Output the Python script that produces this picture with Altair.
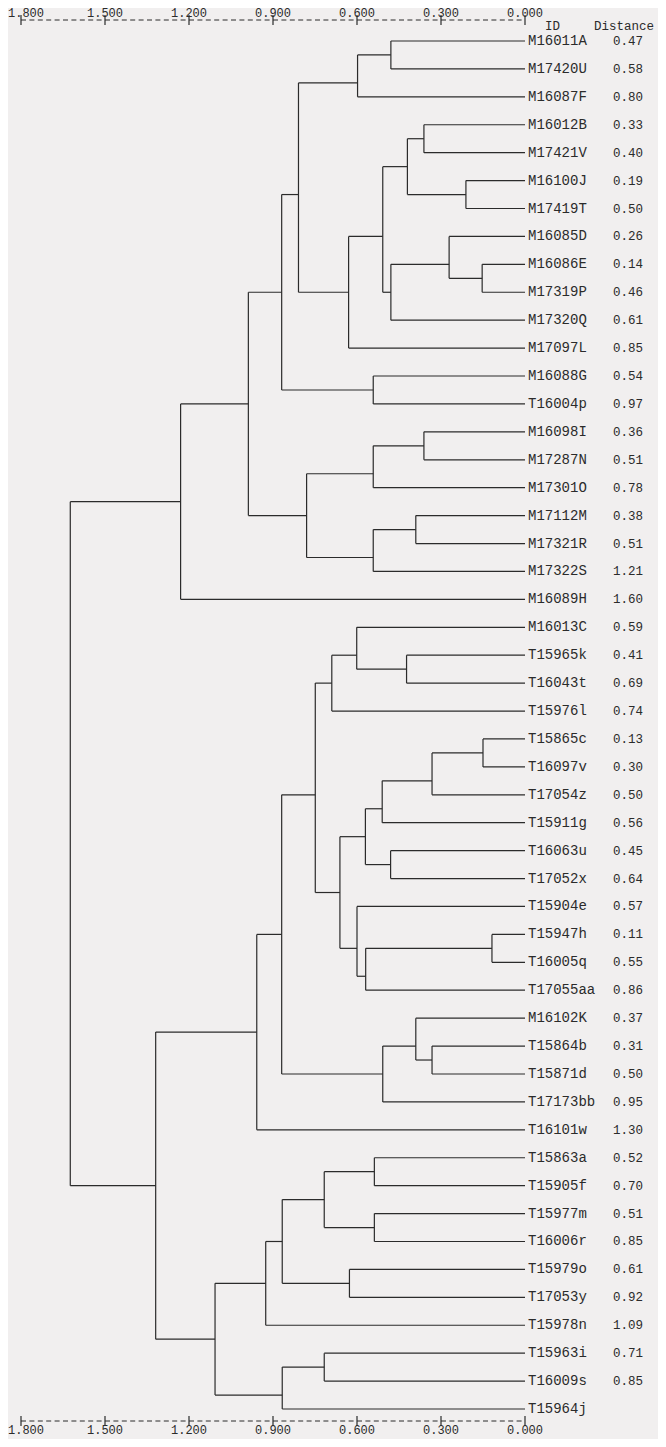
import math
import altair as alt
import pandas as pd

# ---------------- data ----------------
leaf_ids = [
    "M16011A", "M17420U", "M16087F", "M16012B", "M17421V", "M16100J", "M17419T",
    "M16085D", "M16086E", "M17319P", "M17320Q", "M17097L", "M16088G", "T16004p",
    "M16098I", "M17287N", "M17301O", "M17112M", "M17321R", "M17322S", "M16089H",
    "M16013C", "T15965k", "T16043t", "T15976l", "T15865c", "T16097v", "T17054z",
    "T15911g", "T16063u", "T17052x", "T15904e", "T15947h", "T16005q", "T17055aa",
    "M16102K", "T15864b", "T15871d", "T17173bb", "T16101w", "T15863a", "T15905f",
    "T15977m", "T16006r", "T15979o", "T17053y", "T15978n", "T15963i", "T16009s",
    "T15964j",
]
leaf_distance = [
    "0.47", "0.58", "0.80", "0.33", "0.40", "0.19", "0.50",
    "0.26", "0.14", "0.46", "0.61", "0.85", "0.54", "0.97",
    "0.36", "0.51", "0.78", "0.38", "0.51", "1.21", "1.60",
    "0.59", "0.41", "0.69", "0.74", "0.13", "0.30", "0.50",
    "0.56", "0.45", "0.64", "0.57", "0.11", "0.55", "0.86",
    "0.37", "0.31", "0.50", "0.95", "1.30", "0.52", "0.70",
    "0.51", "0.85", "0.61", "0.92", "1.09", "0.71", "0.85",
    "",
]

# merges (bottom-up); N<k> refers to the k-th merge
merge_left = [
    "M16011A", "N0", "M16012B", "M16100J", "N2", "M16086E", "M16085D", "N6", "N4", "N8",
    "N1", "M16088G", "N10", "M16098I", "N13", "M17112M", "N15", "N14", "N12", "N18",
    "T15965k", "M16013C", "N21", "T15865c", "N23", "N24", "T16063u", "N25", "T15947h", "N28",
    "T15904e", "N27", "N22", "T15864b", "M16102K", "N34", "N32", "N36", "T15863a", "T15977m",
    "N38", "T15979o", "N40", "N42", "T15963i", "N44", "N43", "N37", "N19",
]
merge_right = [
    "M17420U", "M16087F", "M17421V", "M17419T", "N3", "M17319P", "N5", "M17320Q", "N7", "M17097L",
    "N9", "T16004p", "N11", "M17287N", "M17301O", "M17321R", "M17322S", "N16", "N17", "M16089H",
    "T16043t", "N20", "T15976l", "T16097v", "T17054z", "T15911g", "T17052x", "N26", "T16005q", "T17055aa",
    "N29", "N30", "N31", "T15871d", "N33", "T17173bb", "N35", "T16101w", "T15905f", "T16006r",
    "N39", "T17053y", "N41", "T15978n", "T16009s", "T15964j", "N45", "N46", "N47",
]
merge_height = [
    0.479, 0.598, 0.361, 0.211, 0.420, 0.153, 0.271, 0.479, 0.508, 0.630,
    0.809, 0.542, 0.869, 0.361, 0.542, 0.390, 0.542, 0.780, 0.988, 1.230,
    0.423, 0.601, 0.690, 0.150, 0.332, 0.510, 0.480, 0.570, 0.118, 0.569,
    0.600, 0.661, 0.749, 0.332, 0.390, 0.508, 0.869, 0.958, 0.538, 0.538,
    0.717, 0.627, 0.867, 0.926, 0.717, 0.867, 1.107, 1.319, 1.624,
]

axis_ticks = [1.8, 1.5, 1.2, 0.9, 0.6, 0.3, 0.0]

# ---------------- build tree segments ----------------
pos = {lid: (0.0, float(i)) for i, lid in enumerate(leaf_ids)}
segs = []
for k, (a, b, h) in enumerate(zip(merge_left, merge_right, merge_height)):
    ha, ya = pos[a]
    hb, yb = pos[b]
    segs.append(dict(x=h, x2=h, y=ya, y2=yb))
    segs.append(dict(x=ha, x2=h, y=ya, y2=ya))
    segs.append(dict(x=hb, x2=h, y=yb, y2=yb))
    # joint placed on the half-row grid (rounded up), as in the printout
    pos[f"N{k}"] = (h, math.ceil((ya + yb) - 1e-9) / 2.0)
seg_df = pd.DataFrame(segs)

leaf_df = pd.DataFrame({
    "id": leaf_ids,
    "dist": leaf_distance,
    "row": list(range(len(leaf_ids))),
    "zero": [0.0] * len(leaf_ids),
})
tick_df = pd.DataFrame({"tick": axis_ticks, "label": [f"{t:.3f}" for t in axis_ticks]})
first_tick_df = tick_df[tick_df["tick"] == max(axis_ticks)]
other_tick_df = tick_df[tick_df["tick"] != max(axis_ticks)]
line_df = pd.DataFrame({"lo": [max(axis_ticks)], "hi": [min(axis_ticks)]})
head_df = pd.DataFrame({"zero": [0.0], "a": ["ID"], "b": ["Distance"]})

# ---------------- chart ----------------
W, H = 504, 1368
INK = "#2b2b2b"
FONT = "Liberation Mono"
xs = alt.Scale(domain=[0, 1.8], reverse=True, nice=False, zero=False)
ys = alt.Scale(domain=[0, 49], reverse=True, nice=False, zero=False)

tree = alt.Chart(seg_df).mark_rule(color=INK, strokeWidth=1.2).encode(
    x=alt.X("x:Q", scale=xs, axis=None),
    x2="x2:Q",
    y=alt.Y("y:Q", scale=ys, axis=None),
    y2="y2:Q",
)

ids = alt.Chart(leaf_df).mark_text(
    align="left", baseline="middle", dx=3, font=FONT, fontSize=14, color=INK
).encode(
    x=alt.X("zero:Q", scale=xs, axis=None),
    y=alt.Y("row:Q", scale=ys, axis=None),
    text="id:N",
)
dists = alt.Chart(leaf_df).mark_text(
    align="left", baseline="middle", dx=88, font=FONT, fontSize=12.5, color=INK
).encode(
    x=alt.X("zero:Q", scale=xs, axis=None),
    y=alt.Y("row:Q", scale=ys, axis=None),
    text="dist:N",
)
head_id = alt.Chart(head_df).mark_text(
    align="left", baseline="middle", dx=20, font=FONT, fontSize=12.5, color=INK
).encode(x=alt.X("zero:Q", scale=xs, axis=None), y=alt.value(-15), text="a:N")
head_dist = alt.Chart(head_df).mark_text(
    align="left", baseline="middle", dx=69, font=FONT, fontSize=12.5, color=INK
).encode(x=alt.X("zero:Q", scale=xs, axis=None), y=alt.value(-15), text="b:N")


def axis_layers(y_line, y_label):
    line = alt.Chart(line_df).mark_rule(color=INK, strokeWidth=1, strokeDash=[5, 3.4]).encode(
        x=alt.X("lo:Q", scale=xs, axis=None), x2="hi:Q", y=alt.value(y_line)
    )
    ticks = alt.Chart(tick_df).mark_rule(color=INK, strokeWidth=1.2).encode(
        x=alt.X("tick:Q", scale=xs, axis=None), y=alt.value(y_line - 5), y2=alt.value(y_line + 5)
    )
    labels = alt.Chart(other_tick_df).mark_text(
        align="center", baseline="middle", font=FONT, fontSize=12, color=INK
    ).encode(x=alt.X("tick:Q", scale=xs, axis=None), y=alt.value(y_label), text="label:N")
    first = alt.Chart(first_tick_df).mark_text(
        align="left", baseline="middle", dx=-13, font=FONT, fontSize=12, color=INK
    ).encode(x=alt.X("tick:Q", scale=xs, axis=None), y=alt.value(y_label), text="label:N")
    return [line, ticks, labels, first]


layers = [tree, ids, dists, head_id, head_dist] + axis_layers(-21, -28) + axis_layers(H + 12, H + 21)

chart = alt.layer(*layers).properties(
    width=W,
    height=H,
    autosize=alt.AutoSizeParams(type="none"),
    padding={"left": 13, "top": 33, "right": 133, "bottom": 30},
    background="#f1efef",
).configure_view(stroke=None)

chart.save("out.html", embed_options={"renderer": "svg", "actions": False})
